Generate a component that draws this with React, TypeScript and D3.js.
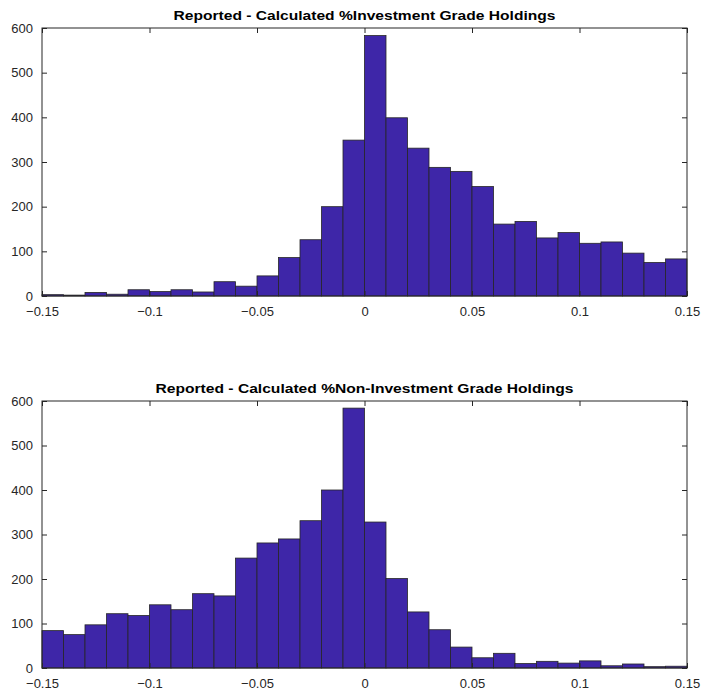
import React, { useEffect, useRef } from 'react';
import * as d3 from 'd3';

// bin left edges, width 0.01
const binStarts = d3.range(-15, 15).map(i => i / 100);

const invGradeCounts = [
  3, 2, 8, 4, 14, 10, 14, 9, 32, 22, 45, 86, 126, 200, 349,
  583, 399, 331, 288, 279, 245, 161, 167, 130, 142, 118, 121, 96, 75, 83,
];

const nonInvGradeCounts = [
  84, 75, 97, 122, 118, 142, 131, 167, 162, 247, 281, 290, 331, 400, 584,
  328, 201, 126, 86, 47, 23, 33, 10, 15, 11, 16, 5, 9, 3, 4,
];

const xTicks = [-0.15, -0.1, -0.05, 0, 0.05, 0.1, 0.15];
const yTicks = [0, 100, 200, 300, 400, 500, 600];

const titles = [
  'Reported - Calculated %Investment Grade Holdings',
  'Reported - Calculated %Non-Investment Grade Holdings',
];

const W = 702;
const H = 696;
const panels = [
  { top: 28, bottom: 296, counts: invGradeCounts, title: titles[0], titleW: 382 },
  { top: 401, bottom: 668, counts: nonInvGradeCounts, title: titles[1], titleW: 418 },
];
const left = 42;
const right = 687;
const axisColor = '#262626';
const barColor = '#3E26A8';
const font = 'Arial, "Liberation Sans", Helvetica, sans-serif';

const fmt = (v: number) => (v === 0 ? '0' : d3.format('')(v).replace('-', '\u2212'));

export default function App() {
  const ref = useRef<SVGSVGElement>(null);

  useEffect(() => {
    const svg = d3.select(ref.current);
    svg.selectAll('*').remove();
    svg.append('rect').attr('width', W).attr('height', H).attr('fill', '#fff');

    const x = d3.scaleLinear().domain([-0.15, 0.15]).range([left, right]);

    panels.forEach(p => {
      const y = d3.scaleLinear().domain([0, 600]).range([p.bottom, p.top]);
      const g = svg.append('g');

      // bars
      g.selectAll('rect.bar')
        .data(p.counts)
        .join('rect')
        .attr('class', 'bar')
        .attr('x', (_, i) => x(binStarts[i]))
        .attr('width', (_, i) => x(binStarts[i] + 0.01) - x(binStarts[i]))
        .attr('y', d => y(d))
        .attr('height', d => p.bottom - y(d))
        .attr('fill', barColor)
        .attr('stroke', axisColor)
        .attr('stroke-width', 0.8);

      // box
      g.append('rect')
        .attr('x', left)
        .attr('y', p.top)
        .attr('width', right - left)
        .attr('height', p.bottom - p.top)
        .attr('fill', 'none')
        .attr('stroke', axisColor)
        .attr('stroke-width', 1);

      // bottom axis (ticks inside) + top ticks
      const xb = d3.axisBottom(x).tickValues(xTicks).tickSizeInner(-5).tickSizeOuter(0).tickPadding(11).tickFormat(d => fmt(+d));
      const gx = g.append('g').attr('transform', `translate(0,${p.bottom})`).call(xb);
      gx.select('.domain').remove();
      gx.selectAll('line').attr('stroke', axisColor);
      gx.selectAll('text').attr('fill', axisColor).style('font-family', font).style('font-size', '13px');

      const xt = d3.axisTop(x).tickValues(xTicks).tickSizeInner(-5).tickSizeOuter(0).tickFormat(() => '');
      const gxt = g.append('g').attr('transform', `translate(0,${p.top})`).call(xt);
      gxt.select('.domain').remove();
      gxt.selectAll('line').attr('stroke', axisColor);

      // left axis
      const yl = d3.axisLeft(y).tickValues(yTicks).tickSizeInner(-5).tickSizeOuter(0).tickPadding(9).tickFormat(d => fmt(+d));
      const gy = g.append('g').attr('transform', `translate(${left},0)`).call(yl);
      gy.select('.domain').remove();
      gy.selectAll('line').attr('stroke', axisColor);
      gy.selectAll('text').attr('fill', axisColor).style('font-family', font).style('font-size', '13px');

      const yr = d3.axisRight(y).tickValues(yTicks).tickSizeInner(-5).tickSizeOuter(0).tickFormat(() => '');
      const gyr = g.append('g').attr('transform', `translate(${right},0)`).call(yr);
      gyr.select('.domain').remove();
      gyr.selectAll('line').attr('stroke', axisColor);

      // title
      g.append('text')
        .attr('x', (left + right) / 2 - p.titleW / 2)
        .attr('y', p.top - 8)
        .attr('textLength', p.titleW)
        .attr('lengthAdjust', 'spacingAndGlyphs')
        .style('font-family', font)
        .style('font-size', '13.5px')
        .style('font-weight', 'bold')
        .attr('fill', '#000')
        .text(p.title);
    });
  }, []);

  return (
    <svg
      ref={ref}
      width={W}
      height={H}
      style={{ position: 'absolute', left: 0, top: 0, display: 'block' }}
    />
  );
}
